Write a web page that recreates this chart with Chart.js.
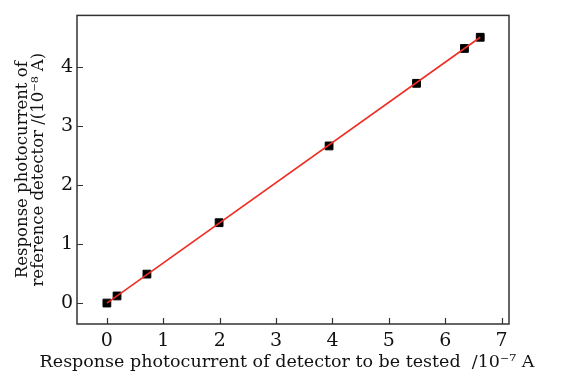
<!DOCTYPE html>
<html>
<head>
<meta charset="utf-8">
<script src="https://cdn.jsdelivr.net/npm/chart.js@4/dist/chart.umd.min.js"></script>
<style>
  html, body { margin: 0; padding: 0; background: #fff; }
  #wrap { width: 562px; height: 379px; }
</style>
</head>
<body>
<div id="wrap"><canvas id="c" width="562" height="379"></canvas></div>
<script>
// Measured points (x: 10^-7 A, y: 10^-8 A)
const testedCurrent = [0, 0.18, 0.71, 1.99, 3.94, 5.49, 6.34, 6.62];
const referenceCurrent = [0, 0.12, 0.49, 1.36, 2.66, 3.72, 4.31, 4.50];
// Linear fit line end points
const fitX = [0, 6.62];
const fitY = [0, 4.50];
// Tick labels
const xTicks = [0, 1, 2, 3, 4, 5, 6, 7];
const yTicks = [0, 1, 2, 3, 4];

const xTitle = 'Response photocurrent of detector to be tested  /10\u207B\u2077 A';
const yTitle = ['Response photocurrent of', 'reference detector /(10\u207B\u2078 A)'];

const FONT = '"DejaVu Serif", serif';
const INK = '#111';

const framePlugin = {
  id: 'frame',
  afterDatasetsDraw(chart) {
    const { ctx, chartArea: a, scales } = chart;
    ctx.save();
    ctx.strokeStyle = '#333';
    ctx.lineWidth = 1.5;
    ctx.strokeRect(a.left, a.top, a.right - a.left, a.bottom - a.top);
    ctx.lineWidth = 1.2;
    ctx.beginPath();
    xTicks.forEach(v => {
      const px = Math.round(scales.x.getPixelForValue(v)) + 0.5;
      ctx.moveTo(px, a.bottom);
      ctx.lineTo(px, a.bottom - 6);
    });
    yTicks.forEach(v => {
      const py = Math.round(scales.y.getPixelForValue(v)) + 0.5;
      ctx.moveTo(a.left, py);
      ctx.lineTo(a.left + 6, py);
    });
    ctx.stroke();
    // x axis title (drawn without width compression)
    ctx.fillStyle = INK;
    ctx.font = '17.5px ' + FONT;
    ctx.textAlign = 'center';
    ctx.textBaseline = 'middle';
    ctx.fillText(xTitle, 287, 362);
    ctx.restore();
  }
};

new Chart(document.getElementById('c'), {
  type: 'scatter',
  data: {
    datasets: [
      {
        type: 'line',
        label: 'fit',
        data: fitX.map((x, i) => ({ x, y: fitY[i] })),
        borderColor: 'rgb(238,45,35)',
        borderWidth: 1.6,
        pointRadius: 0,
        fill: false,
        order: 0
      },
      {
        label: 'measured',
        data: testedCurrent.map((x, i) => ({ x, y: referenceCurrent[i] })),
        pointStyle: 'rect',
        pointRadius: 5.5,
        backgroundColor: '#000',
        borderColor: '#000',
        borderWidth: 1,
        order: 1
      }
    ]
  },
  options: {
    responsive: false,
    animation: false,
    layout: { padding: { top: 5, right: 53, left: 0, bottom: 0 } },
    plugins: { legend: { display: false }, tooltip: { enabled: false } },
    scales: {
      x: {
        type: 'linear',
        min: -0.53,
        max: 7.13,
        afterBuildTicks: s => { s.ticks = xTicks.map(v => ({ value: v })); },
        afterFit: s => { s.height = 55; },
        grid: { display: false, drawTicks: false },
        border: { display: false },
        ticks: { color: INK, font: { family: FONT, size: 19 }, padding: 6, autoSkip: false, maxRotation: 0 },
        title: { display: false }
      },
      y: {
        type: 'linear',
        min: -0.355,
        max: 4.87,
        afterBuildTicks: s => { s.ticks = yTicks.map(v => ({ value: v })); },
        afterFit: s => { s.width = 77; },
        grid: { display: false, drawTicks: false },
        border: { display: false },
        ticks: { color: INK, font: { family: FONT, size: 19 }, padding: 4, autoSkip: false },
        title: { display: true, text: yTitle, color: INK, font: { family: FONT, size: 16.5, lineHeight: 1.0 }, padding: { top: 14, bottom: 0 } }
      }
    }
  },
  plugins: [framePlugin]
});
</script>
</body>
</html>
